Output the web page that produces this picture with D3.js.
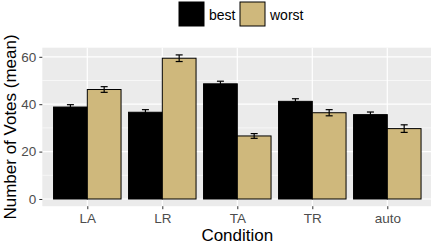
<!DOCTYPE html>
<html><head><meta charset="utf-8">
<script src="https://cdn.jsdelivr.net/npm/d3@7"></script>
<style>body{margin:0;background:#fff}svg{display:block;font-family:"Liberation Sans",Arial,sans-serif}</style>
</head><body><svg id="c" width="431" height="244"></svg>
<script>
const categories = ["LA","LR","TA","TR","auto"];
const seriesNames = ["best","worst"];
const bestMeans  = [38.8, 36.6, 48.6, 41.2, 35.6];
const bestSE     = [1.0, 1.1, 1.1, 1.1, 1.1];
const worstMeans = [46.2, 59.4, 26.6, 36.4, 29.7];
const worstSE    = [1.2, 1.4, 1.0, 1.3, 1.6];
const yTicks = [0, 20, 40, 60];
const yMinor = [10, 30, 50];
const colors = {best:"#000000", worst:"#CFB87C"};

const svg = d3.select("#c");
const panel = {l:42.3, r:432.3, t:47.7, b:206.2};

const data = [];
categories.forEach((c,i)=>{
  data.push({cat:c, s:"best", v:bestMeans[i], se:bestSE[i]});
  data.push({cat:c, s:"worst", v:worstMeans[i], se:worstSE[i]});
});
const yMax = d3.max(data, d=>d.v+d.se);
const pad = yMax*0.05;
const y = d3.scaleLinear().domain([-pad, yMax+pad]).range([panel.b, panel.t]);
const step = (panel.r-panel.l)/(categories.length-1+1.2);
const x = d3.scalePoint().domain(categories).range([panel.l+0.6*step, panel.r-0.6*step]);
const bw = 0.45*step;
const xs = d3.scaleOrdinal().domain(seriesNames).range([-bw, 0]);

svg.append("rect").attr("x",panel.l).attr("y",panel.t).attr("width",panel.r-panel.l).attr("height",panel.b-panel.t).attr("fill","#EBEBEB");
yMinor.forEach(t=>svg.append("line").attr("x1",panel.l).attr("x2",panel.r).attr("y1",y(t)).attr("y2",y(t)).attr("stroke","#fff").attr("stroke-width",0.6));
yTicks.forEach(t=>svg.append("line").attr("x1",panel.l).attr("x2",panel.r).attr("y1",y(t)).attr("y2",y(t)).attr("stroke","#fff").attr("stroke-width",1.2));
categories.forEach(c=>svg.append("line").attr("x1",x(c)).attr("x2",x(c)).attr("y1",panel.t).attr("y2",panel.b).attr("stroke","#fff").attr("stroke-width",1.2));

svg.selectAll("rect.bar").data(data).enter().append("rect").attr("class","bar")
  .attr("x",d=>x(d.cat)+xs(d.s)).attr("width",bw)
  .attr("y",d=>y(d.v)).attr("height",d=>y(0)-y(d.v))
  .attr("fill",d=>colors[d.s]).attr("stroke","#000").attr("stroke-width",1);

const ew = 7;
const eg = svg.append("g").attr("stroke","#000").attr("stroke-width",1.2).attr("fill","none");
data.forEach(d=>{
  const cx = x(d.cat)+xs(d.s)+bw/2;
  eg.append("line").attr("x1",cx).attr("x2",cx).attr("y1",y(d.v+d.se)).attr("y2",y(d.v-d.se));
  eg.append("line").attr("x1",cx-ew/2).attr("x2",cx+ew/2).attr("y1",y(d.v+d.se)).attr("y2",y(d.v+d.se));
  eg.append("line").attr("x1",cx-ew/2).attr("x2",cx+ew/2).attr("y1",y(d.v-d.se)).attr("y2",y(d.v-d.se));
});

// axes
const yAxis = d3.axisLeft(y).tickValues(yTicks).tickSize(3).tickPadding(3);
const ga = svg.append("g").attr("transform",`translate(${panel.l},0)`).call(yAxis);
ga.select(".domain").remove();
ga.selectAll("line").attr("stroke","#333");
ga.selectAll("text").attr("fill","#4D4D4D").style("font-size","13.5px").style("font-family","Liberation Sans, Arial, sans-serif");

const xAxis = d3.axisBottom(x).tickSize(3).tickPadding(4);
const gx = svg.append("g").attr("transform",`translate(0,${panel.b})`).call(xAxis);
gx.select(".domain").remove();
gx.selectAll("line").attr("stroke","#333");
gx.selectAll("text").attr("fill","#4D4D4D").style("font-size","13.5px").style("font-family","Liberation Sans, Arial, sans-serif");

svg.append("text").attr("x",(panel.l+panel.r)/2).attr("y",241).attr("text-anchor","middle").style("font-size","17px").attr("fill","#000").text("Condition");
svg.append("text").attr("transform",`translate(16,${(panel.t+panel.b)/2}) rotate(-90)`).attr("text-anchor","middle").style("font-size","17px").attr("fill","#000").text("Number of Votes (mean)");

// legend
const lg = svg.append("g");
const legendItems = [{s:"best", x:179},{s:"worst", x:240}];
legendItems.forEach(it=>{
  lg.append("rect").attr("x",it.x).attr("y",2).attr("width",25).attr("height",24).attr("fill",colors[it.s]).attr("stroke","#000").attr("stroke-width",1);
  lg.append("text").attr("x",it.x+30).attr("y",19.5).style("font-size","14px").attr("fill","#000").text(it.s);
});
</script></body></html>
